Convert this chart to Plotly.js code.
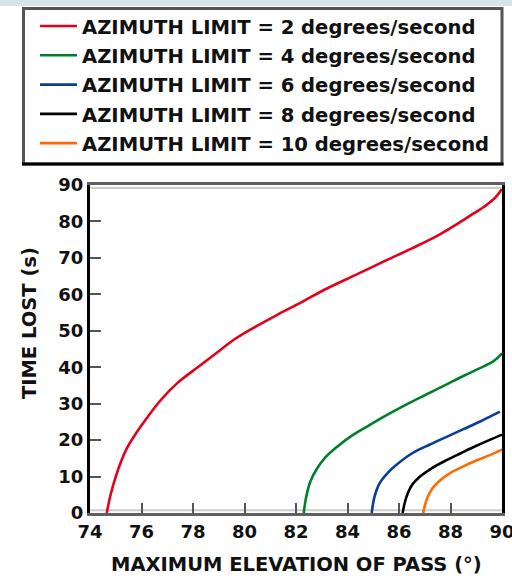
<!DOCTYPE html>
<html>
<head>
<meta charset="utf-8">
<script src="https://cdn.plot.ly/plotly-3.0.1.min.js"></script>
<style>
html,body{margin:0;padding:0;background:#fff;overflow:hidden;}
#chart{width:512px;height:579px;}
</style>
</head>
<body>
<div id="chart"></div>
<script>
// Series data (x: max elevation of pass in degrees, y: time lost in s)
const labels = [
  "AZIMUTH LIMIT = 2 degrees/second",
  "AZIMUTH LIMIT = 4 degrees/second",
  "AZIMUTH LIMIT = 6 degrees/second",
  "AZIMUTH LIMIT = 8 degrees/second",
  "AZIMUTH LIMIT = 10 degrees/second"
];
const colors = ["#e3001b", "#00802b", "#0b3d94", "#000000", "#ff6a00"];

const x2 = [74.65, 74.8, 75.0, 75.2, 75.45, 75.8, 76.2, 76.75, 77.4, 78.3, 79.0, 79.6, 80.3, 81.2, 82.2, 83.2, 84.4, 85.5, 86.5, 87.5, 88.3, 88.9, 89.4, 89.8, 90];
const y2 = [0, 5, 10, 14, 18, 22, 26, 31, 35.7, 40.6, 44.4, 47.6, 50.6, 54.1, 57.8, 61.6, 65.6, 69.3, 72.6, 76.1, 79.5, 82.2, 84.5, 87, 89];

const x4 = [82.3, 82.4, 82.55, 82.8, 83.15, 83.6, 84.1, 84.75, 85.4, 86.3, 87.0, 87.85, 88.5, 89.1, 89.66, 90];
const y4 = [0, 4.5, 8.5, 12, 15.3, 18.2, 20.9, 23.7, 26.4, 29.8, 32.3, 35.3, 37.6, 39.6, 41.6, 43.8];

const x6 = [84.94, 85.05, 85.25, 85.6, 86.0, 86.56, 87.2, 87.85, 88.5, 89.15, 89.92];
const y6 = [0, 4.5, 8.2, 11.3, 13.8, 16.6, 18.8, 20.9, 23.0, 25.1, 27.8];

const x8 = [86.14, 86.28, 86.5, 86.85, 87.3, 87.85, 88.4, 88.9, 89.5, 90];
const y8 = [0, 4.2, 7.6, 10.2, 12.4, 14.5, 16.4, 18.1, 20.0, 21.5];

const x10 = [86.94, 87.08, 87.3, 87.6, 88.0, 88.5, 89.0, 89.5, 90];
const y10 = [0, 3.8, 6.8, 9.0, 11.0, 12.8, 14.4, 15.8, 17.4];

const xTicks = [74, 76, 78, 80, 82, 84, 86, 88, 90];
const yTicks = [0, 10, 20, 30, 40, 50, 60, 70, 80, 90];

const xs = [x2, x4, x6, x8, x10];
const ys = [y2, y4, y6, y8, y10];

const traces = xs.map((xv, i) => ({
  type: "scatter",
  mode: "lines",
  x: xv,
  y: ys[i],
  name: labels[i],
  legendgroup: "g" + i,
  line: {color: colors[i], width: 2.6, shape: "spline", smoothing: 1}
}));

const FONT = "DejaVu Sans";

const layout = {
  width: 512,
  height: 579,
  margin: {l: 90, r: 10, t: 185, b: 66, autoexpand: false},
  paper_bgcolor: "#ffffff",
  plot_bgcolor: "#ffffff",
  font: {family: FONT, color: "#111111", size: 18, weight: "bold"},
  showlegend: true,
  legend: {
    x: -0.1335, xanchor: "left",
    y: 1.5433, yanchor: "top",
    bgcolor: "rgba(0,0,0,0)",
    borderwidth: 0,
    itemwidth: 37,
    traceorder: "grouped",
    tracegroupgap: 0.8,
    font: {family: FONT, size: 19.6, color: "#111111", weight: "bold"}
  },
  xaxis: {
    range: [74, 90],
    tickvals: xTicks,
    ticktext: xTicks.map(String),
    ticks: "inside",
    ticklen: 10,
    tickwidth: 2,
    tickcolor: "#555555",
    ticklabeloverflow: "allow",
    showline: true,
    linecolor: "#606060",
    linewidth: 3,
    mirror: true,
    showgrid: false,
    zeroline: false,
    tickfont: {family: FONT, size: 18, color: "#111111", weight: "bold"}
  },
  yaxis: {
    range: [0, 90],
    tickvals: yTicks,
    ticktext: yTicks.map(String),
    ticks: "inside",
    ticklen: 11,
    tickwidth: 2,
    tickcolor: "#555555",
    showline: true,
    linecolor: "#000000",
    linewidth: 3,
    mirror: true,
    showgrid: false,
    zeroline: false,
    tickfont: {family: FONT, size: 18, color: "#111111", weight: "bold"}
  },
  annotations: [
    {text: "MAXIMUM ELEVATION OF PASS (°)", xref: "paper", yref: "paper", x: 0.5, y: -0.1585,
     xanchor: "center", yanchor: "middle", showarrow: false,
     font: {family: FONT, size: 19.5, color: "#111111", weight: "bold"}},
    {text: "TIME LOST (s)", xref: "paper", yref: "paper", x: -0.148, y: 0.579, textangle: -90,
     xanchor: "center", yanchor: "middle", showarrow: false,
     font: {family: FONT, size: 19.5, color: "#111111", weight: "bold"}}
  ],
  shapes: [
    // light blue strip at very top
    {type: "rect", xref: "paper", yref: "paper", x0: -0.25, x1: 1.05, y0: 1.5457, y1: 1.6,
     fillcolor: "#d6e4ec", line: {width: 0}, layer: "below"},
    // legend frame
    {type: "rect", xref: "paper", yref: "paper", x0: -0.1614, x1: 1.0, y0: 1.064, y1: 1.538,
     fillcolor: "rgba(0,0,0,0)", line: {color: "#555555", width: 3}},
    {type: "line", xref: "paper", yref: "paper", x0: -0.165, x1: 1.0036, y0: 1.064, y1: 1.064,
     line: {color: "#000000", width: 3}},
    // light grey inner lines along top and bottom frame
    {type: "line", xref: "paper", yref: "paper", x0: 0, x1: 1, y0: 0.991, y1: 0.991,
     line: {color: "#cccccc", width: 2}},
    {type: "line", xref: "paper", yref: "paper", x0: 0, x1: 1, y0: 0.0085, y1: 0.0085,
     line: {color: "#cccccc", width: 2}, layer: "below"}
  ]
};

Plotly.newPlot("chart", traces, layout, {displayModeBar: false, staticPlot: true});
</script>
</body>
</html>
